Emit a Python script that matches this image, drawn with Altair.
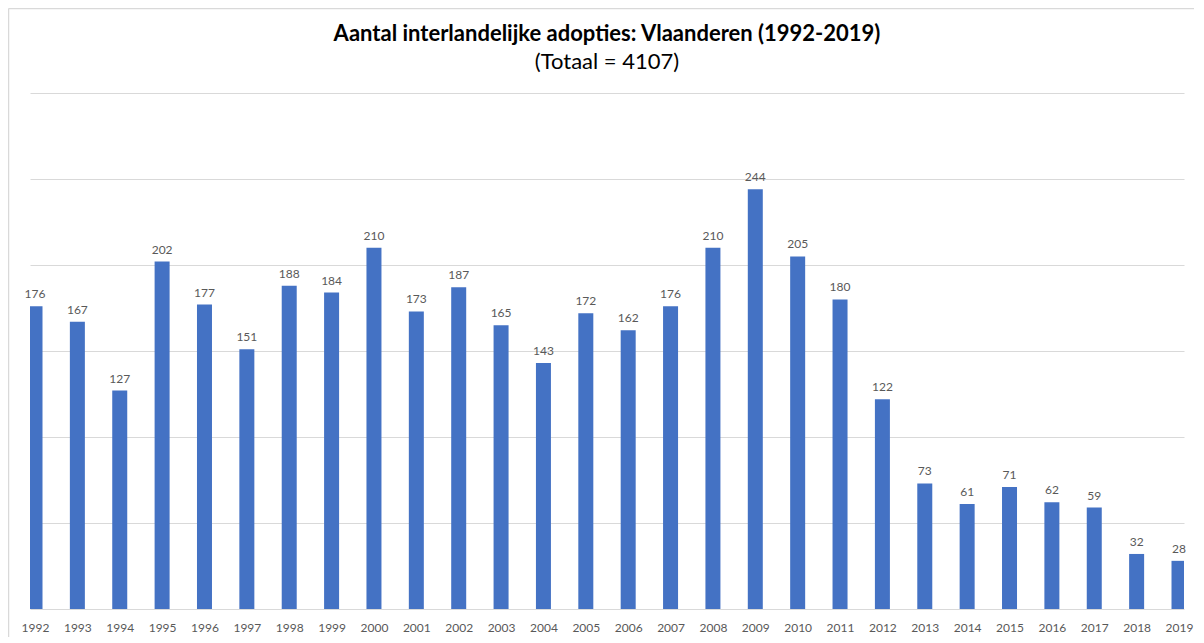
import altair as alt
import pandas as pd

years = list(range(1992, 2020))
values = [176, 167, 127, 202, 177, 151, 188, 184, 210, 173, 187, 165, 143, 172,
          162, 176, 210, 244, 205, 180, 122, 73, 61, 71, 62, 59, 32, 28]
grid_values = [0, 50, 100, 150, 200, 250, 300]

title_text = "Aantal interlandelijke adopties: Vlaanderen (1992-2019)"
subtitle_text = "(Totaal = 4107)"

df = pd.DataFrame({"jaar": years, "aantal": values})
W, H = 1154, 516

x_scale = alt.Scale(domain=[1992, 2019], nice=False, zero=False)
y_scale = alt.Scale(domain=[0, 300], nice=False)

base = alt.Chart(df)

bars = base.mark_bar(size=15, color="#4472C4", clip=True).encode(
    x=alt.X("jaar:Q", scale=x_scale,
            axis=alt.Axis(values=years, format="d", title=None, grid=False,
                          domain=False, ticks=False, tickSize=0, labelPadding=13,
                          labelFlush=False, labelOverlap=False,
                          labelFont="Lato", labelFontSize=12, labelColor="#595959")),
    y=alt.Y("aantal:Q", scale=y_scale,
            axis=alt.Axis(values=grid_values, labels=False, ticks=False, domain=False,
                          title=None, grid=True, gridColor="#D9D9D9", gridWidth=1)),
)

labels = base.mark_text(baseline="alphabetic", dy=-8, font="Lato", fontSize=12,
                        color="#595959").encode(
    x=alt.X("jaar:Q", scale=x_scale),
    y=alt.Y("aantal:Q", scale=y_scale),
    text=alt.Text("aantal:Q", format="d"),
)

frame_df = pd.DataFrame({"a": [0]})
left_border = alt.Chart(frame_df).mark_rule(color="#D9D9D9", strokeWidth=1.5).encode(
    x=alt.value(-21.5), y=alt.value(-84.5), y2=alt.value(H + 40))
top_border = alt.Chart(frame_df).mark_rule(color="#D9D9D9", strokeWidth=1.5).encode(
    x=alt.value(-21.5), x2=alt.value(W + 40), y=alt.value(-84.5))

title_df = pd.DataFrame({"t": [title_text]})
subtitle_df = pd.DataFrame({"t": [subtitle_text]})
title_mark = alt.Chart(title_df).mark_text(
    font="Lato", fontSize=22, fontWeight="bold", color="#000000",
    align="center", baseline="alphabetic").encode(
    x=alt.value(W / 2), y=alt.value(-52), text="t:N")
subtitle_mark = alt.Chart(subtitle_df).mark_text(
    font="Lato", fontSize=22, color="#000000",
    align="center", baseline="alphabetic").encode(
    x=alt.value(W / 2), y=alt.value(-24), text="t:N")

chart = alt.layer(left_border, top_border, bars, labels, title_mark, subtitle_mark).properties(
    width=W, height=H,
    autosize=alt.AutoSizeParams(type="none"),
    padding={"left": 22, "top": 85, "right": 10, "bottom": 28},
).configure_view(stroke=None)

chart.save("out.html", embed_options={"renderer": "svg", "actions": False})
